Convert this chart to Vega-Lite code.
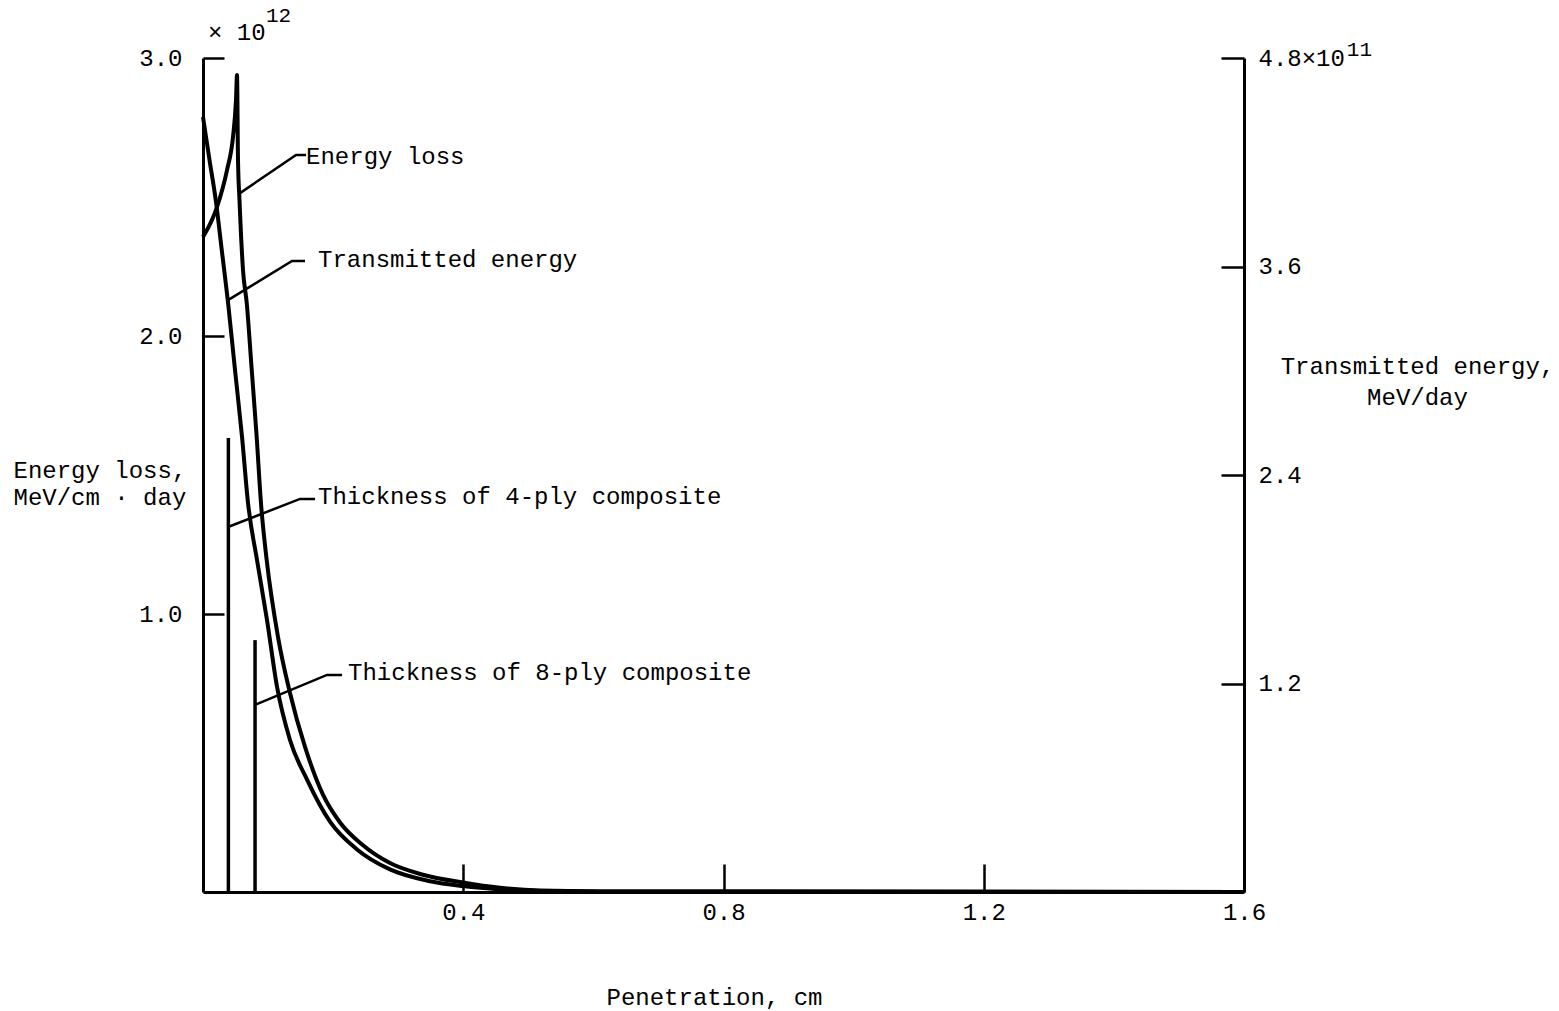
{
  "$schema": "https://vega.github.io/schema/vega-lite/v6.json",
  "width": 1041,
  "height": 834,
  "autosize": {"type": "none"},
  "padding": {"left": 203, "top": 58, "right": 315, "bottom": 119},
  "background": "white",
  "config": {
    "view": {"stroke": null},
    "font": "Liberation Mono",
    "axis": {
      "domainColor": "black", "tickColor": "black", "labelColor": "black", "titleColor": "black",
      "labelFont": "Liberation Mono", "titleFont": "Liberation Mono",
      "labelFontSize": 24, "titleFontSize": 24, "titleFontWeight": "normal",
      "grid": false, "domainWidth": 3, "tickWidth": 2.5
    }
  },
  "datasets": {
    "loss": [
      {"x": 0, "y": 2.356}, {"x": 0.0215, "y": 2.464}, {"x": 0.0369, "y": 2.597}, {"x": 0.0461, "y": 2.716},
      {"x": 0.0507, "y": 2.849}, {"x": 0.0523, "y": 2.939}, {"x": 0.0538, "y": 2.633}, {"x": 0.0561, "y": 2.489},
      {"x": 0.0615, "y": 2.237}, {"x": 0.0672, "y": 2.119}, {"x": 0.0749, "y": 1.878}, {"x": 0.0825, "y": 1.637},
      {"x": 0.0891, "y": 1.399}, {"x": 0.0979, "y": 1.194}, {"x": 0.1153, "y": 0.917}, {"x": 0.1337, "y": 0.716},
      {"x": 0.1568, "y": 0.522}, {"x": 0.1844, "y": 0.350}, {"x": 0.2106, "y": 0.250}, {"x": 0.2459, "y": 0.168},
      {"x": 0.2874, "y": 0.104}, {"x": 0.3381, "y": 0.062}, {"x": 0.3996, "y": 0.034}, {"x": 0.4565, "y": 0.015},
      {"x": 0.518, "y": 0.005}, {"x": 0.61, "y": 0.002}, {"x": 1.6, "y": 0}
    ],
    "trans": [
      {"x": 0, "y": 4.460}, {"x": 0.0100, "y": 4.213}, {"x": 0.0200, "y": 3.971}, {"x": 0.0292, "y": 3.683},
      {"x": 0.0384, "y": 3.396}, {"x": 0.0492, "y": 3.004}, {"x": 0.0600, "y": 2.619}, {"x": 0.0692, "y": 2.239},
      {"x": 0.0830, "y": 1.911}, {"x": 0.0984, "y": 1.565}, {"x": 0.1138, "y": 1.180}, {"x": 0.1337, "y": 0.875},
      {"x": 0.1599, "y": 0.647}, {"x": 0.1952, "y": 0.405}, {"x": 0.2367, "y": 0.245}, {"x": 0.2874, "y": 0.130},
      {"x": 0.3489, "y": 0.062}, {"x": 0.3996, "y": 0.034}, {"x": 0.4565, "y": 0.015}, {"x": 0.518, "y": 0.006},
      {"x": 0.61, "y": 0.003}, {"x": 1.6, "y": 0}
    ],
    "thick": [
      {"g": "4-ply", "x": 0.039, "y": 0}, {"g": "4-ply", "x": 0.039, "y": 1.633},
      {"g": "8-ply", "x": 0.080, "y": 0}, {"g": "8-ply", "x": 0.080, "y": 0.906}
    ],
    "leaders": [
      {"g": "a", "x": 0.0569, "y": 2.514}, {"g": "a", "x": 0.1430, "y": 2.651}, {"g": "a", "x": 0.1584, "y": 2.651},
      {"g": "b", "x": 0.0384, "y": 2.129}, {"g": "b", "x": 0.1368, "y": 2.270}, {"g": "b", "x": 0.1568, "y": 2.270},
      {"g": "c", "x": 0.0384, "y": 1.313}, {"g": "c", "x": 0.1491, "y": 1.414}, {"g": "c", "x": 0.1722, "y": 1.414},
      {"g": "d", "x": 0.0799, "y": 0.673}, {"g": "d", "x": 0.1906, "y": 0.781}, {"g": "d", "x": 0.2137, "y": 0.781}
    ],
    "labels": [
      {"t": "Energy loss", "x": 0.1584, "y": 2.644},
      {"t": "Transmitted energy", "x": 0.1768, "y": 2.273},
      {"t": "Thickness of 4-ply composite", "x": 0.1768, "y": 1.421},
      {"t": "Thickness of 8-ply composite", "x": 0.2229, "y": 0.788},
      {"t": "× 10", "x": 0.0077, "y": 3.090}
    ],
    "sups": [
      {"t": "12", "x": 0.0968, "y": 3.151},
      {"t": "11", "x": 1.758, "y": 3.029}
    ]
  },
  "layer": [
    {
      "layer": [
        {
          "data": {"name": "loss"},
          "mark": {"type": "line", "color": "black", "strokeWidth": 4, "interpolate": "monotone"},
          "encoding": {
            "x": {"field": "x", "type": "quantitative", "scale": {"domain": [0, 1.6], "nice": false, "zero": false},
              "axis": {"values": [0.4, 0.8, 1.2, 1.6], "format": ".1f", "tickSize": -28, "labelPadding": 36, "labelFlush": false,
                "title": "Penetration, cm", "titleX": 511, "titleY": 105, "titleBaseline": "middle"}},
            "y": {"field": "y", "type": "quantitative", "scale": {"domain": [0, 3], "nice": false},
              "axis": {"values": [1, 2, 3], "format": ".1f", "tickSize": -21, "labelPadding": 42,
                "title": ["Energy loss,", "MeV/cm · day"], "titleAngle": 0, "titleAlign": "left", "titleBaseline": "top",
                "titleX": -190, "titleY": 400, "titleLineHeight": 27}}
          }
        },
        {
          "data": {"name": "thick"},
          "mark": {"type": "line", "color": "black", "strokeWidth": 3.5},
          "encoding": {
            "x": {"field": "x", "type": "quantitative"},
            "y": {"field": "y", "type": "quantitative"},
            "detail": {"field": "g", "type": "nominal"},
            "order": {"field": "y", "type": "quantitative"}
          }
        },
        {
          "data": {"name": "leaders"},
          "mark": {"type": "line", "color": "black", "strokeWidth": 2.5},
          "encoding": {
            "x": {"field": "x", "type": "quantitative"},
            "y": {"field": "y", "type": "quantitative"},
            "detail": {"field": "g", "type": "nominal"}
          }
        },
        {
          "data": {"name": "labels"},
          "mark": {"type": "text", "align": "left", "baseline": "middle", "fontSize": 24, "color": "black", "font": "Liberation Mono"},
          "encoding": {
            "x": {"field": "x", "type": "quantitative"},
            "y": {"field": "y", "type": "quantitative"},
            "text": {"field": "t", "type": "nominal"}
          }
        },
        {
          "data": {"name": "sups"},
          "mark": {"type": "text", "align": "left", "baseline": "middle", "fontSize": 21, "color": "black", "font": "Liberation Mono"},
          "encoding": {
            "x": {"field": "x", "type": "quantitative"},
            "y": {"field": "y", "type": "quantitative"},
            "text": {"field": "t", "type": "nominal"}
          }
        }
      ]
    },
    {
      "layer": [
        {
          "data": {"name": "trans"},
          "mark": {"type": "line", "color": "black", "strokeWidth": 4, "interpolate": "monotone"},
          "encoding": {
            "x": {"field": "x", "type": "quantitative"},
            "y": {"field": "y", "type": "quantitative", "scale": {"domain": [0, 4.8], "nice": false},
              "axis": {"orient": "right", "values": [1.2, 2.4, 3.6, 4.8], "tickSize": -23, "labelPadding": 37,
                "labelExpr": "datum.value == 4.8 ? '4.8×10' : format(datum.value, '.1f')",
                "title": ["Transmitted energy,", "MeV/day"], "titleAngle": 0, "titleAlign": "center", "titleBaseline": "top",
                "titleX": 173, "titleY": 296, "titleLineHeight": 31}}
          }
        }
      ]
    }
  ],
  "resolve": {"scale": {"y": "independent"}}
}
